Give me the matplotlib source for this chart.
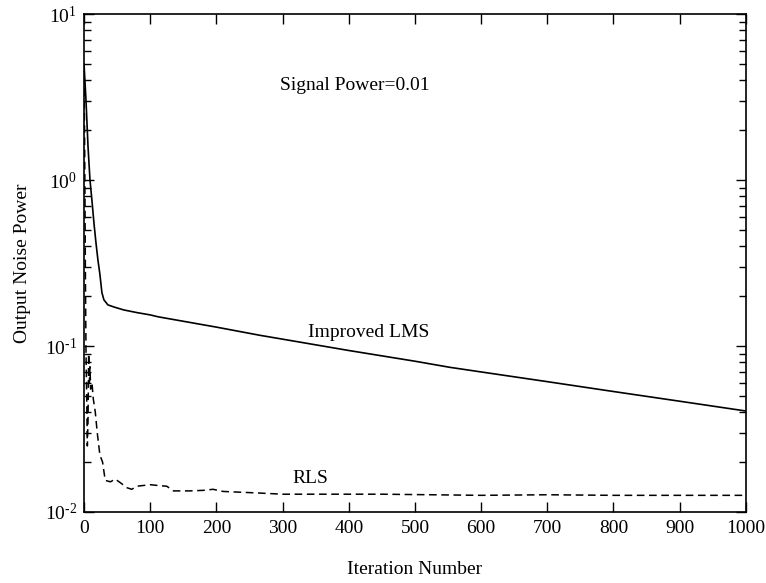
#!/usr/bin/env python3

import matplotlib
matplotlib.use('Agg')
import matplotlib.pyplot as plt
from matplotlib.ticker import FixedLocator, LogLocator, NullFormatter

# values
lms_iter = [0, 3, 6, 9, 12, 15, 18, 21, 24, 27, 30, 36, 45, 60, 80, 100,
            112, 150, 200, 266, 300, 400, 500, 553, 600, 700, 800, 900, 1000]
lms_power = [5.0, 3.0, 1.6, 1.0, 0.75, 0.55, 0.42, 0.33, 0.27, 0.21, 0.19,
             0.177, 0.172, 0.165, 0.159, 0.154, 0.150, 0.141, 0.130, 0.116,
             0.110, 0.094, 0.081, 0.0744, 0.0698, 0.061, 0.0532, 0.0465,
             0.0406]

rls_iter = [0, 1, 2, 3, 4, 5, 6, 7, 8, 9, 10, 12, 14, 17, 20, 24, 28, 32,
            40, 47, 55, 65, 72, 80, 100, 115, 125, 135, 160, 180, 195, 210,
            266, 300, 450, 600, 700, 800, 1000]
rls_power = [5.0, 1.5, 0.3, 0.09, 0.05, 0.025, 0.035, 0.09, 0.06, 0.075,
             0.055, 0.06, 0.048, 0.04, 0.03, 0.022, 0.02, 0.0155, 0.0152,
             0.0158, 0.015, 0.0140, 0.0137, 0.0143, 0.0146, 0.0144, 0.0143,
             0.0134, 0.0134, 0.0135, 0.0137, 0.0133, 0.0130, 0.0128, 0.0128,
             0.0126, 0.0127, 0.0126, 0.0126]

x_ticks = [0, 100, 200, 300, 400, 500, 600, 700, 800, 900, 1000]
y_ticks = [1e-2, 1e-1, 1e0, 1e1]
y_tick_labels = [r'$10^{\text{-}2}$', r'$10^{\text{-}1}$', r'$10^{0}$',
                 r'$10^{1}$']

plt.rcParams['font.family'] = ['Liberation Serif', 'DejaVu Serif']
plt.rcParams['mathtext.fontset'] = 'custom'
plt.rcParams['mathtext.rm'] = 'Liberation Serif'
plt.rcParams['mathtext.it'] = 'Liberation Serif:italic'


def main():
    fig = plt.figure(figsize=(7.66, 5.83), dpi=100)
    ax = fig.add_axes([0.1097, 0.1218, 0.864, 0.854])

    ax.plot(lms_iter, lms_power, color='black', linewidth=1.2)
    ax.plot(rls_iter, rls_power, color='black', linewidth=1.1,
            dashes=(5, 3))

    ax.set_yscale('log')
    ax.set_xlim(0, 1000)
    ax.set_ylim(1e-2, 1e1)

    ax.xaxis.set_major_locator(FixedLocator(x_ticks))
    ax.set_xticklabels([str(t) for t in x_ticks])
    ax.yaxis.set_major_locator(FixedLocator(y_ticks))
    ax.set_yticklabels(y_tick_labels)
    ax.yaxis.set_minor_locator(LogLocator(base=10, subs=range(2, 10)))
    ax.yaxis.set_minor_formatter(NullFormatter())

    ax.tick_params(which='both', direction='in', top=True, right=True,
                   labelsize=14, colors='black')
    ax.tick_params(which='major', length=7, width=1)
    ax.tick_params(which='minor', length=5, width=1)
    ax.tick_params(axis='x', pad=6)
    ax.tick_params(axis='y', pad=5)

    for sp in ax.spines.values():
        sp.set_linewidth(1.2)

    ax.set_xlabel('Iteration Number', fontsize=14, labelpad=17)
    ax.set_ylabel('Output Noise Power', fontsize=14, labelpad=10)

    ax.text(409, 3.73, 'Signal Power=0.01', fontsize=14,
            ha='center', va='center')
    ax.text(430, 0.121, 'Improved LMS', fontsize=14,
            ha='center', va='center')
    ax.text(342, 0.016, 'RLS', fontsize=14, ha='center', va='center')

    fig.savefig('out.png', dpi=100)


if __name__ == '__main__':
    main()
